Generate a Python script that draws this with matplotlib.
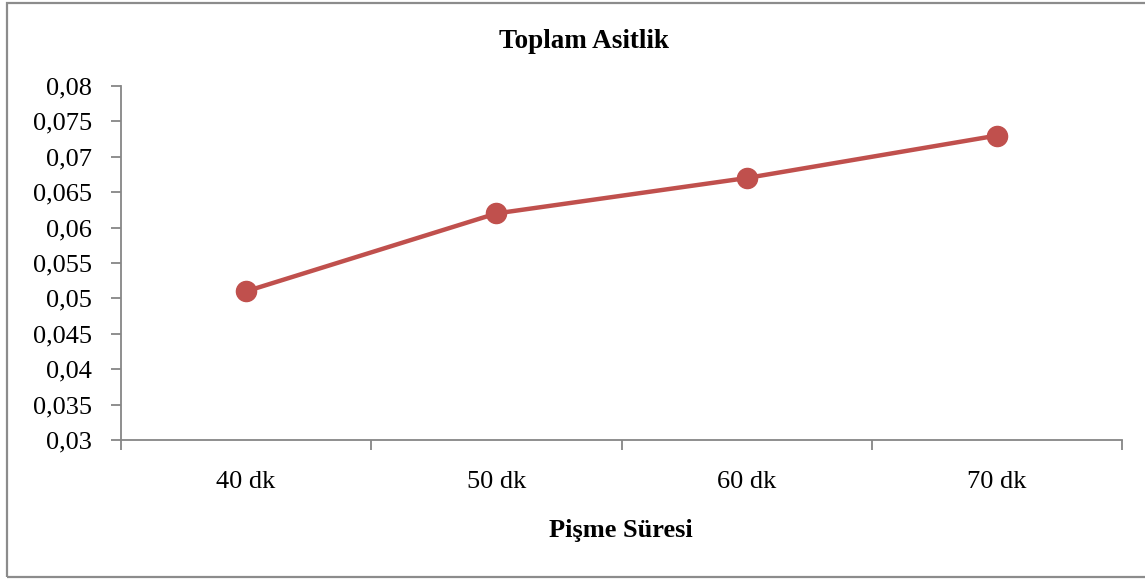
import matplotlib
matplotlib.use("Agg")
import matplotlib.pyplot as plt
from matplotlib.patches import Rectangle
from matplotlib.ticker import FixedLocator

categories = ["40 dk", "50 dk", "60 dk", "70 dk"]
values = [0.051, 0.062, 0.067, 0.073]
yticks = [0.03, 0.035, 0.04, 0.045, 0.05, 0.055, 0.06, 0.065, 0.07, 0.075, 0.08]
title = "Toplam Asitlik"
xlabel = "Pişme Süresi"

plt.rcParams['font.family'] = ['Liberation Serif', 'DejaVu Serif']

W, H = 1145, 581
fig = plt.figure(figsize=(W / 100, H / 100), dpi=100)

# outer border
fig.patches.append(Rectangle((7 / W, 4 / H), (1150 - 7) / W, (578 - 4) / H,
                             transform=fig.transFigure, fill=False,
                             edgecolor="#8c8c8c", linewidth=1.6))

ax = fig.add_axes([121 / W, 1 - 440 / H, (1122 - 121) / W, (440 - 86) / H])
x = list(range(len(categories)))
ax.plot(x, values, color="#C0504D", linewidth=3.2, marker="o", markersize=14.5,
        markerfacecolor="#C0504D", markeredgecolor="#C0504D", zorder=3)

ax.set_xlim(-0.5, len(categories) - 0.5)
ax.set_ylim(yticks[0], yticks[-1])
ax.set_yticks(yticks)
ax.set_yticklabels([("%g" % v).replace(".", ",") for v in yticks])
ax.set_xticks(x)
ax.set_xticklabels(categories)
ax.xaxis.set_minor_locator(FixedLocator([i - 0.5 for i in range(len(categories) + 1)]))
ax.tick_params(axis="x", which="major", length=0, pad=22, labelsize=19)
ax.tick_params(axis="x", which="minor", length=7, width=1.3, color="#868686", direction="out")
ax.tick_params(axis="y", length=7, width=1.3, color="#868686", direction="out", pad=14, labelsize=19)

for s in ["top", "right"]:
    ax.spines[s].set_visible(False)
for s in ["left", "bottom"]:
    ax.spines[s].set_color("#868686")
    ax.spines[s].set_linewidth(1.3)

fig.text(584 / W, 1 - 41 / H, title, ha="center", va="center", fontsize=19.5, fontweight="bold")
fig.text(621 / W, 1 - 530 / H, xlabel, ha="center", va="center", fontsize=19, fontweight="bold")

fig.savefig("out.png", dpi=100)
